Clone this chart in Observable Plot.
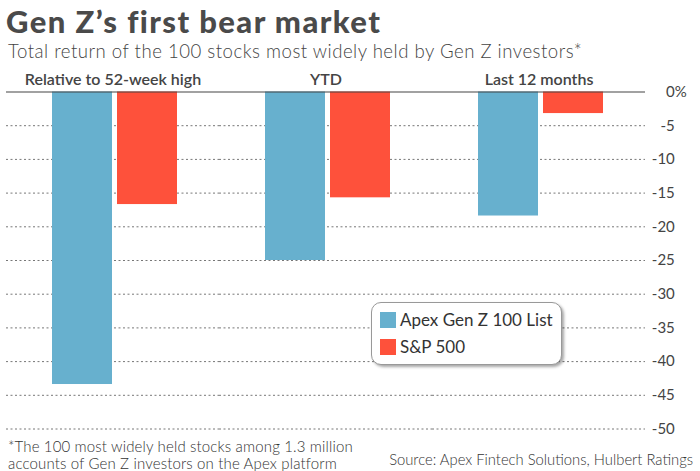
<!DOCTYPE html>
<html><head><meta charset="utf-8">
<script src="https://cdn.jsdelivr.net/npm/d3@7"></script>
<script src="https://cdn.jsdelivr.net/npm/@observablehq/plot@0.6"></script>
<style>
body{margin:0;width:700px;height:471px;position:relative;overflow:hidden;background:#fff;font-family:Lato,sans-serif;color:#444}
.abs{position:absolute;white-space:nowrap}
#title{left:6px;top:6px;font-size:31px;line-height:31px;font-weight:900;color:#4a4a4a;letter-spacing:1.4px}
#subtitle{left:8px;top:41.9px;font-size:18.6px;line-height:18.6px;font-weight:300;color:#444;letter-spacing:0.5px}
#chart{left:0;top:64px}
#foot{left:8px;top:438.2px;font-size:15px;line-height:17.3px;font-weight:300;color:#333;letter-spacing:0.15px}
#source{right:7px;top:451.7px;font-size:14.8px;line-height:15px;font-weight:300;color:#333}
#legend{left:371px;top:302px;width:189px;height:61px;border:1.5px solid #999;border-radius:10px;background:#fff;box-shadow:2px 2px 3px rgba(0,0,0,0.35)}
.item{position:absolute;left:8px;font-size:17px;line-height:17px;color:#333;white-space:nowrap}
.sw{display:inline-block;width:16px;height:16px;vertical-align:-2px;margin-right:4px}
</style></head>
<body>
<div id="title" class="abs">Gen Z’s first bear market</div>
<div id="subtitle" class="abs">Total return of the 100 stocks most widely held by Gen Z investors*</div>
<div id="chart" class="abs"></div>
<div id="legend" class="abs"></div>
<div id="foot" class="abs">*The 100 most widely held stocks among 1.3 million<br>accounts of Gen Z investors on the Apex platform</div>
<div id="source" class="abs">Source: Apex Fintech Solutions, Hulbert Ratings</div>
<script>
const categories = ["Relative to 52-week high", "YTD", "Last 12 months"];
const series = ["Apex Gen Z 100 List", "S&P 500"];
const apexValues = [-43.4, -25.0, -18.4];
const spValues = [-16.7, -15.7, -3.2];
const colors = ["#67b0ce", "#fe513b"];
const yTicks = [0, -5, -10, -15, -20, -25, -30, -35, -40, -45, -50];

const data = [];
categories.forEach((c, i) => {
  data.push({cat: c, series: series[0], value: apexValues[i]});
  data.push({cat: c, series: series[1], value: spValues[i]});
});
const grid = yTicks.filter(d => d !== 0);

const plot = Plot.plot({
  width: 700,
  height: 372,
  marginTop: 27.5,
  marginBottom: 7.5,
  marginLeft: 5,
  marginRight: 53.3,
  style: {fontFamily: "Lato, sans-serif", fontSize: "15px", color: "#444", background: "transparent", overflow: "visible"},
  fx: {domain: categories, padding: 0},
  x: {domain: series, paddingInner: 0.0758, paddingOuter: 0.628, insetLeft: 4},
  y: {domain: [-50, 0]},
  color: {domain: series, range: colors},
  marks: [
    Plot.ruleY(grid, {stroke: "#777", strokeDasharray: "2,2.5", strokeWidth: 1}),
    Plot.barY(data, {fx: "cat", x: "series", y: "value", fill: "series"}),
    Plot.ruleY([0], {stroke: "#444", strokeWidth: 1.2}),
    Plot.axisFx({anchor: "top", tickSize: 0, tickPadding: 7, fontSize: 16, fontWeight: 600, color: "#444", label: null, style: {letterSpacing: "0.2px"}}),
    Plot.axisY(yTicks, {anchor: "right", tickSize: 0, tickPadding: 29.3, textAnchor: "end", tickFormat: d => String(d), fontSize: 15, color: "#444", label: null}),
    Plot.axisX({ticks: [], label: null}),
    Plot.text([0], {fx: () => categories[2], y: d => d, text: () => "%", frameAnchor: "right", dx: 29.3, textAnchor: "start", fontSize: 15, fill: "#444"})
  ]
});
document.getElementById("chart").appendChild(plot);

const legend = document.getElementById("legend");
series.forEach((s, i) => {
  const it = document.createElement("div");
  it.className = "item";
  it.style.top = (8 + i * 27) + "px";
  const sw = document.createElement("span");
  sw.className = "sw";
  sw.style.background = colors[i];
  it.appendChild(sw);
  it.appendChild(document.createTextNode(s));
  legend.appendChild(it);
});
</script>
</body></html>
